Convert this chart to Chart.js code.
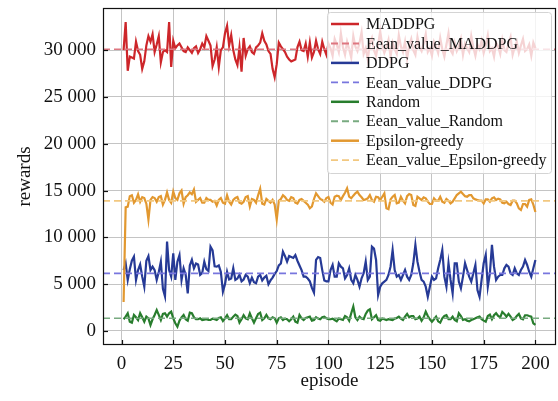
<!DOCTYPE html>
<html>
<head>
<meta charset="utf-8">
<script src="https://cdn.jsdelivr.net/npm/chart.js@4.4.1/dist/chart.umd.min.js"></script>
<style>
  html, body { margin: 0; padding: 0; background: #fff; }
  #wrap { width: 558px; height: 401px; }
</style>
</head>
<body>
<div id="wrap"><canvas id="rewardsChart" width="558" height="401"></canvas></div>
<script>
// episodes 1..200
var episodes = [];
for (var e = 1; e <= 200; e++) episodes.push(e);

var xTicks = [0, 25, 50, 75, 100, 125, 150, 175, 200];
var yTicks = [0, 5000, 10000, 15000, 20000, 25000, 30000];

// MADDPG rewards
var maddpg = [
  30000, 33000, 27800, 29300, 29200, 29100, 30900, 29900, 29500, 28000,
  28800, 30500, 31500, 30900, 31700, 29800, 30600, 31500, 28700, 29800,
  30000, 29800, 33000, 28200, 31000, 30200, 30500, 30700, 30300, 29900,
  29800, 30300, 30000, 29700, 30200, 30400, 29700, 30100, 30700, 30300,
  31500, 31000, 30500, 28300, 29000, 30300, 28200, 30000, 30300, 31800,
  32600, 30500, 31600, 30000, 29000, 28400, 30300, 27700, 31300, 29400,
  30100, 30400, 29800, 29600, 30300, 30500, 30800, 31800, 31000, 30600,
  29900, 29600, 28000, 27100, 28500, 30800, 30400, 30100, 29800, 29300,
  29000, 28800, 28900, 29000, 30300, 30900, 30000, 29900, 30700, 29300,
  30800, 29200, 29800, 31000, 30100, 29600, 30900, 30100, 29500, 30700,
  30200, 29400, 31200, 30600, 29800, 31800, 30300, 29500, 30900, 30100,
  29200, 31500, 30400, 29900, 30800, 31900, 29600, 30200, 29000, 30700,
  31300, 30000, 29400, 30600, 32000, 30500, 29700, 30300, 31100, 29300,
  30800, 30100, 29600, 31600, 30400, 29800, 30900, 29100, 30500, 31200,
  30000, 29500, 31400, 30300, 29900, 30700, 31700, 29800, 30200, 29400,
  30900, 30400, 29700, 31300, 30100, 29300, 30600, 31800, 30000, 29600,
  30800, 29900, 30400, 31200, 29500, 30700, 30200, 29800, 31500, 30300,
  29400, 30600, 30100, 31000, 29700, 30500, 31600, 29900, 30200, 29300,
  30800, 30400, 29600, 31100, 30000, 29800, 30700, 31400, 29500, 30300,
  30900, 29700, 30500, 31200, 29900, 30100, 30600, 29400, 30800, 30200
];

// DDPG rewards
var ddpg = [
  6500, 7230, 5450, 6600, 7500, 7930, 5450, 6500, 7100, 5800,
  4730, 7500, 8000, 6510, 6870, 6500, 5450, 6300, 7400, 4500,
  3700, 9540, 6500, 5800, 8300, 5450, 7400, 8100, 5450, 6700,
  6000, 4020, 7000, 7600, 6700, 7200, 7100, 6000, 6200, 7400,
  6600, 6400, 9000, 8600, 6900, 6870, 7000, 6300, 4200, 5000,
  6330, 5500, 5600, 6700, 5450, 5600, 6000, 5300, 5500, 6000,
  5800, 5100, 5700, 5200, 5100, 5800, 6000, 5400, 5700, 5900,
  5000, 5400, 5700, 6100, 6400, 7000, 7200, 8470, 8000, 7400,
  8000, 7900, 7800, 8100, 7500, 7000, 6500, 5800, 5800, 5600,
  5300, 4600, 4100, 7600, 7900, 7800, 6500, 5400, 5300, 5300,
  6510, 7050, 5800, 5800, 7230, 6870, 6690, 5620, 5980, 6690,
  5450, 5090, 5980, 5450, 4730, 5620, 6160, 7400, 5450, 5800,
  9000, 8800, 7580, 3840, 4730, 5090, 5270, 5450, 5980, 6870,
  8650, 6510, 5800, 5980, 5450, 5980, 6510, 5800, 5450, 5980,
  7230, 9190, 7400, 6330, 5450, 5270, 4730, 3660, 4730, 5800,
  5450, 5620, 6690, 7580, 8650, 5800, 4730, 7230, 5450, 4020,
  7230, 7230, 5270, 4550, 5800, 7230, 6510, 5800, 5270, 6160,
  7050, 4370, 3660, 5450, 7230, 8120, 4730, 6160, 9190, 6870,
  5450, 5800, 5980, 5980, 6690, 7050, 6870, 6160, 5980, 6690,
  6160, 5980, 6510, 6870, 7580, 7050, 6330, 5800, 6690, 7580
];

// Random policy rewards
var randomPolicy = [
  1250, 1530, 1890, 990, 890, 1710, 1460, 1170, 1890, 1460,
  990, 1530, 1350, 640, 1250, 1710, 2240, 1710, 1170, 1820,
  1890, 1530, 1890, 2060, 1350, 820, 460, 1100, 1460, 1710,
  1250, 1100, 1960, 1890, 1460, 1250, 1250, 1350, 1170, 1200,
  1250, 1170, 1170, 1320, 1250, 1170, 1390, 1460, 1060, 1350,
  1680, 1250, 1250, 1530, 1750, 1600, 890, 1250, 1680, 1350,
  1250, 1890, 1350, 890, 1350, 1820, 1960, 1170, 1350, 1710,
  1350, 1250, 1460, 1350, 890, 1350, 1460, 1170, 1320, 1250,
  1030, 1250, 1530, 990, 890, 1710, 1350, 1170, 1390, 1460,
  1530, 1100, 1170, 1460, 1320, 1250, 1460, 1530, 1350, 1250,
  1250, 1320, 1170, 1030, 1320, 1250, 1170, 1600, 1460, 1100,
  1890, 2600, 1460, 1170, 1530, 1320, 1250, 1820, 2170, 2310,
  1250, 1460, 1680, 1170, 1100, 1320, 1250, 1170, 1250, 1210,
  1170, 1320, 1390, 1530, 1320, 1170, 1530, 1820, 1460, 1600,
  1600, 1250, 1320, 1530, 1100, 1460, 2060, 1600, 1250, 990,
  1250, 1530, 1030, 890, 1350, 1600, 1680, 1250, 1250, 1530,
  1170, 1030, 1890, 1600, 1170, 1250, 1100, 1030, 1170, 1250,
  1350, 1460, 1530, 1250, 1100, 990, 1600, 1750, 1250, 1680,
  1890, 1600, 1460, 2030, 1820, 1530, 1820, 1530, 1170, 1320,
  1600, 1820, 1350, 1250, 1680, 1680, 1600, 1530, 820, 640
];

// Epsilon-greedy rewards
var epsilonGreedy = [
  3100, 13200, 13280, 14400, 14500, 13700, 14000, 14600, 13800, 14300,
  14200, 13600, 11900, 14000, 14300, 14200, 13800, 14300, 14400, 13500,
  14000, 14800, 14000, 13700, 14900, 14200, 14000, 14700, 15000, 13600,
  14300, 14500, 14800, 14600, 15100, 13800, 14000, 14200, 13700, 13700,
  14200, 14000, 14000, 13800, 13900, 13400, 14000, 14200, 13700, 13600,
  14500, 13800, 13500, 14000, 14200, 14300, 13700, 13600, 13800, 14300,
  14400, 13300, 14100, 14000, 13700, 14500, 15200, 13600, 13500, 14100,
  13900, 13700, 14000, 13500, 11900, 13900, 14100, 14500, 14300, 14000,
  13900, 14300, 14200, 13700, 13600, 14000, 14100, 13900, 13700, 13500,
  13100, 13300, 14100, 14700, 14400, 14100, 14000, 13800, 14200, 14300,
  13700, 13500, 14340, 14450, 14400, 13990, 14400, 14760, 15240, 14340,
  14170, 14450, 14700, 14880, 14520, 14280, 13990, 14050, 14170, 14520,
  13990, 13810, 14340, 14280, 13990, 14340, 14700, 13100, 13000, 14050,
  14340, 14520, 13630, 13700, 14340, 13920, 13630, 14400, 14630, 14520,
  13460, 13350, 14340, 14170, 13990, 14280, 14170, 13810, 13560, 13560,
  14170, 13920, 13920, 14340, 13810, 13700, 14100, 13920, 13630, 13810,
  14170, 14520, 14700, 14880, 14630, 14400, 14340, 14520, 14520, 14170,
  14050, 13990, 13920, 13920, 13630, 14050, 14050, 13810, 14170, 14280,
  13990, 14130, 14050, 13700, 13630, 13810, 13560, 13460, 13920, 13920,
  13630, 13100, 12920, 13560, 13560, 13280, 13990, 14050, 13500, 12700
];

// mean values (dashed lines)
var meanMADDPG = 30100;
var meanDDPG = 6150;
var meanRandom = 1350;
var meanEpsilon = 13900;

var xMin = -8.95, xMax = 209.95;

function toPoints(values) {
  return values.map(function (v, i) { return { x: episodes[i], y: v }; });
}
function flatLine(v) {
  return [{ x: xMin, y: v }, { x: xMax, y: v }];
}

var series = [
  { label: 'MADDPG', data: toPoints(maddpg), color: 'rgb(205,38,42)', dash: [] , width: 2.2 },
  { label: 'Eean_value_MADDPG', data: flatLine(meanMADDPG), color: 'rgb(222,118,128)', dash: [7, 4], width: 1.6 },
  { label: 'DDPG', data: toPoints(ddpg), color: 'rgb(38,58,150)', dash: [], width: 2.2 },
  { label: 'Eean_value_DDPG', data: flatLine(meanDDPG), color: 'rgb(120,118,222)', dash: [7, 4], width: 1.6 },
  { label: 'Random', data: toPoints(randomPolicy), color: 'rgb(40,125,45)', dash: [], width: 2.2 },
  { label: 'Eean_value_Random', data: flatLine(meanRandom), color: 'rgb(120,170,128)', dash: [7, 4], width: 1.6 },
  { label: 'Epsilon-greedy', data: toPoints(epsilonGreedy), color: 'rgb(226,152,48)', dash: [], width: 2.2 },
  { label: 'Eean_value_Epsilon-greedy', data: flatLine(meanEpsilon), color: 'rgb(242,200,128)', dash: [7, 4], width: 1.6 }
];

var serif = 'Liberation Serif';

// frame, inward ticks and the legend box
var framePlugin = {
  id: 'framePlugin',
  afterDatasetsDraw: function (chart) {
    var ctx = chart.ctx, a = chart.chartArea;
    var xs = chart.scales.x, ys = chart.scales.y;
    ctx.save();
    ctx.strokeStyle = '#111';
    ctx.lineWidth = 1.2;
    xTicks.forEach(function (t) {
      var px = Math.round(xs.getPixelForValue(t)) + 0.5;
      ctx.beginPath(); ctx.moveTo(px, a.bottom); ctx.lineTo(px, a.bottom - 5); ctx.stroke();
    });
    yTicks.forEach(function (t) {
      var py = Math.round(ys.getPixelForValue(t)) + 0.5;
      ctx.beginPath(); ctx.moveTo(a.left, py); ctx.lineTo(a.left + 5, py); ctx.stroke();
    });
    ctx.strokeRect(a.left + 0.5, a.top + 0.5, a.right - a.left - 1, a.bottom - a.top - 1);

    // legend
    var bx = 327, by = 12, bw = 224, bh = 161;
    ctx.fillStyle = 'rgba(255,255,255,0.8)';
    ctx.strokeStyle = '#d4d4d4';
    ctx.lineWidth = 1;
    ctx.beginPath();
    ctx.roundRect(bx + 0.5, by + 0.5, bw, bh, 3);
    ctx.fill();
    ctx.stroke();
    ctx.font = '16px "' + serif + '"';
    ctx.textBaseline = 'middle';
    series.forEach(function (s, i) {
      var y = 24 + i * 19.45;
      ctx.strokeStyle = s.color;
      ctx.lineWidth = s.width + 0.3;
      ctx.setLineDash(s.dash);
      ctx.beginPath(); ctx.moveTo(331, y); ctx.lineTo(359, y); ctx.stroke();
      ctx.setLineDash([]);
      ctx.fillStyle = '#111';
      ctx.fillText(s.label, 366, y + 1);
    });
    ctx.restore();
  }
};

var ctx = document.getElementById('rewardsChart').getContext('2d');
var rewardsChart = new Chart(ctx, {
  type: 'line',
  data: {
    datasets: series.map(function (s, i) {
      return {
        label: s.label,
        data: s.data,
        borderColor: s.color,
        borderWidth: s.width,
        borderDash: s.dash,
        pointRadius: 0,
        tension: 0,
        fill: false,
        order: series.length - i
      };
    })
  },
  options: {
    responsive: false,
    animation: false,
    events: [],
    layout: { padding: { left: 0, right: 2, top: 8, bottom: 0 } },
    plugins: {
      legend: { display: false },
      tooltip: { enabled: false }
    },
    scales: {
      x: {
        type: 'linear',
        min: xMin,
        max: xMax,
        afterBuildTicks: function (scale) {
          scale.ticks = xTicks.map(function (v) { return { value: v }; });
        },
        afterFit: function (scale) {
          scale.height = 56;
          scale.paddingLeft = 0;
          scale.paddingRight = 0;
        },
        grid: { color: '#c4c4c4', lineWidth: 1, drawTicks: false },
        border: { display: false },
        ticks: {
          padding: 8,
          maxRotation: 0,
          color: '#111',
          font: { family: serif, size: 19 }
        },
        title: {
          display: true,
          text: 'episode',
          color: '#111',
          font: { family: serif, size: 19 },
          padding: { top: 0, bottom: 9 }
        }
      },
      y: {
        type: 'linear',
        min: -1500,
        max: 34500,
        afterBuildTicks: function (scale) {
          scale.ticks = yTicks.map(function (v) { return { value: v }; });
        },
        afterFit: function (scale) {
          scale.width = 103;
          scale.paddingTop = 0;
          scale.paddingBottom = 0;
        },
        grid: { color: '#c4c4c4', lineWidth: 1, drawTicks: false },
        border: { display: false },
        ticks: {
          padding: 7,
          color: '#111',
          font: { family: serif, size: 19 },
          callback: function (v) {
            return String(v).replace(/\B(?=(\d{3})+(?!\d))/g, ' ');
          }
        },
        title: {
          display: true,
          text: 'rewards',
          color: '#111',
          font: { family: serif, size: 19 },
          padding: { top: 14, bottom: 13 }
        }
      }
    }
  },
  plugins: [framePlugin]
});
</script>
</body>
</html>
